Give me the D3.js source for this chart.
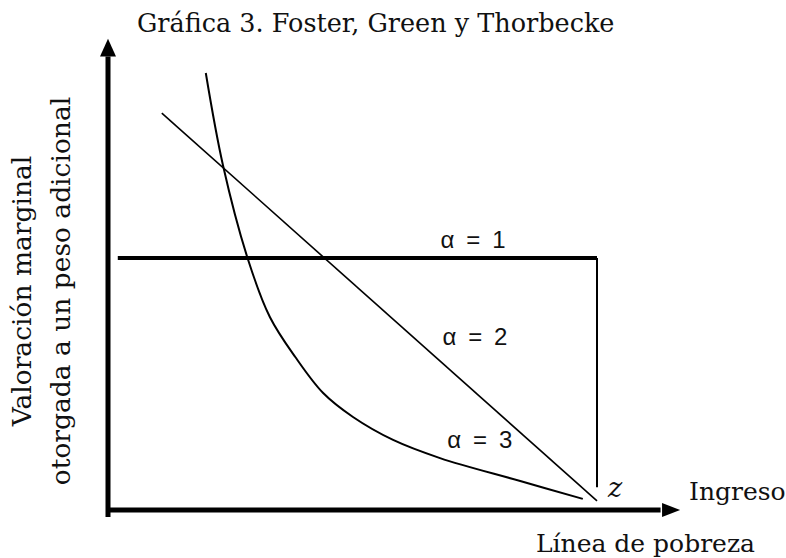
<!DOCTYPE html>
<html>
<head>
<meta charset="utf-8">
<script src="https://cdn.jsdelivr.net/npm/d3@7"></script>
<style>
  body { margin: 0; background: #fff; }
  .serif { font-family: "DejaVu Serif", serif; fill: #111; }
  .lbl { font-family: "Liberation Sans", Arial, sans-serif; fill: #111; }
</style>
</head>
<body>
<svg id="chart" width="786" height="558"></svg>
<script>

// income (x, z = 100) and marginal valuation (y, alpha=1 level = 100)
var alpha1X = [2, 100];
var alpha1Y = [100, 100];
var povertyLineY = [100, 9];

var alpha2X = [11, 100];
var alpha2Y = [157.5, 3.6];

var alpha3X = [20.0, 23.5, 28.6, 33.1, 38.3, 44.0, 50.1, 58.3, 67.9, 84.3, 97.1];
var alpha3Y = [173.4, 136.9, 99.6, 76.6, 60.7, 46.4, 36.9, 27.8, 20.6, 11.5, 4.4];

var curveLabels = ["\u03b1 = 1", "\u03b1 = 2", "\u03b1 = 3"];
var labelX = [68.0, 68.4, 69.4];
var labelY = [104, 65.5, 24.5];

var titleText = "Gráfica 3. Foster, Green y Thorbecke";
var yTitle = ["Valoración marginal", "otorgada a un peso adicional"];
var xTitle = "Ingreso";
var zText = "z";
var povertyText = "Línea de pobreza";

var svg = d3.select("#chart");

var x = d3.scaleLinear().domain([0, 100]).range([108, 597]);
var y = d3.scaleLinear().domain([0, 100]).range([510, 258]);

var line = d3.line().x(function(d) { return x(d[0]); }).y(function(d) { return y(d[1]); });

var zip = function(xs, ys) { return xs.map(function(v, i) { return [v, ys[i]]; }); };

// axes with arrow heads
svg.append("line")
    .attr("x1", x(0)).attr("y1", y(-2.8))
    .attr("x2", x(0)).attr("y2", y(180))
    .attr("stroke", "#000").attr("stroke-width", 5);
svg.append("path")
    .attr("d", "M" + (x(0) - 8) + "," + y(180) + "L" + x(0) + "," + y(187) + "L" + (x(0) + 8) + "," + y(180) + "Z")
    .attr("fill", "#000");

svg.append("line")
    .attr("x1", x(0) - 2).attr("y1", y(0))
    .attr("x2", x(113)).attr("y2", y(0))
    .attr("stroke", "#000").attr("stroke-width", 5);
svg.append("path")
    .attr("d", "M" + x(113.3) + "," + (y(0) - 7) + "L" + x(117) + "," + y(0) + "L" + x(113.3) + "," + (y(0) + 7) + "Z")
    .attr("fill", "#000");

// alpha = 1
svg.append("path").datum(zip(alpha1X, alpha1Y))
    .attr("d", line).attr("fill", "none").attr("stroke", "#000").attr("stroke-width", 4);
svg.append("path").datum([[100, povertyLineY[0]], [100, povertyLineY[1]]])
    .attr("d", line).attr("fill", "none").attr("stroke", "#000").attr("stroke-width", 2);

// alpha = 2
svg.append("path").datum(zip(alpha2X, alpha2Y))
    .attr("d", line).attr("fill", "none").attr("stroke", "#000").attr("stroke-width", 1.6);

// alpha = 3
svg.append("path").datum(zip(alpha3X, alpha3Y))
    .attr("d", line.curve(d3.curveCatmullRom.alpha(0.5))).attr("fill", "none").attr("stroke", "#000").attr("stroke-width", 2);

svg.selectAll("text.lbl").data(curveLabels).enter().append("text")
    .attr("class", "lbl")
    .attr("x", function(d, i) { return x(labelX[i]); })
    .attr("y", function(d, i) { return y(labelY[i]); })
    .attr("font-size", 24)
    .attr("textLength", 65)
    .attr("lengthAdjust", "spacing")
    .text(function(d) { return d; });

// texts
svg.append("text").attr("class", "serif")
    .attr("x", 137).attr("y", 32).attr("font-size", 25.5)
    .text(titleText);

svg.selectAll("text.ytitle").data(yTitle).enter().append("text")
    .attr("class", "serif ytitle")
    .attr("font-size", 26.5)
    .attr("text-anchor", "middle")
    .attr("transform", function(d, i) { return "translate(" + (31 + i * 39) + ",291) rotate(-90)"; })
    .text(function(d) { return d; });

svg.append("text").attr("class", "serif")
    .attr("x", 689).attr("y", 500).attr("font-size", 25)
    .text(xTitle);

svg.append("text").attr("class", "serif")
    .attr("x", 608).attr("y", 497).attr("font-size", 27).attr("font-style", "italic")
    .text(zText);

svg.append("text").attr("class", "serif")
    .attr("x", 536).attr("y", 552).attr("font-size", 25)
    .text(povertyText);

</script>
</body>
</html>
